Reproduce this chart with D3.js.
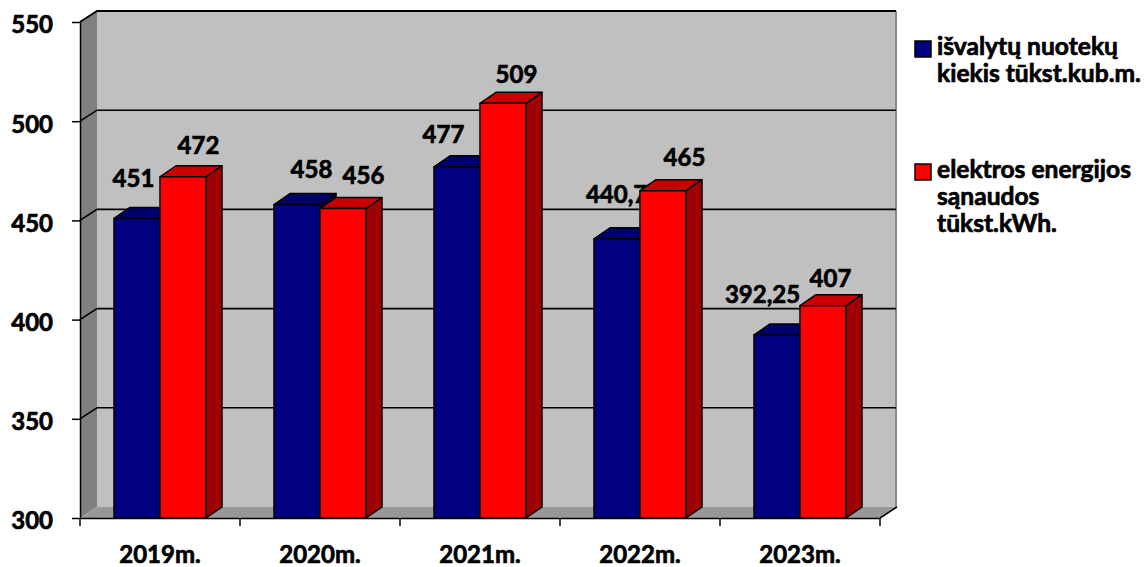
<!DOCTYPE html>
<html>
<head>
<meta charset="utf-8">
<script src="https://cdn.jsdelivr.net/npm/d3@7"></script>
<style>
  html, body { margin: 0; padding: 0; background: #fff; }
  svg { display: block; font-family: Lato, "Open Sans", sans-serif; font-weight: bold; }
  /* Lato bold is a bit light next to the original, thicken it */
  svg text { stroke: #000; stroke-width: 0.7px; paint-order: stroke; }
</style>
</head>
<body>
<div id="chart"></div>
<script>
// Chart data
const years = ['2019m.', '2020m.', '2021m.', '2022m.', '2023m.'];
const seriesNames = [
  ['išvalytų nuotekų', 'kiekis tūkst.kub.m.'],
  ['elektros energijos', 'sąnaudos', 'tūkst.kWh.']
];
const wastewater = [451, 458, 477, 440.75, 392.25];
const electricity = [472, 456, 509, 465, 407];
const yTicks = [300, 350, 400, 450, 500, 550];

// Layout
const width = 1147, height = 567;
const plot = { left: 80, right: 880, top: 22, bottom: 518 };
const depth = { dx: 17, dy: -11 };
const colors = [
  { front: '#000080', top: '#00006a', side: '#000055' },
  { front: '#ff0000', top: '#c80000', side: '#a00000' }
];
// hand-moved data labels, px offset from default spot
const labelNudge = [
  [[-12, -5], [6, -1], [-22, 2], [-2, -10], [-23, -6]],
  [[7, 3], [12, 2], [5, 6], [13, 1], [-1, 7]]
];
const font = 'Lato, "Open Sans", sans-serif';

const fmt = v => String(v).replace('.', ',');

const svg = d3.select('#chart').append('svg')
  .attr('width', width)
  .attr('height', height);

const y = d3.scaleLinear().domain([300, 550]).range([plot.bottom, plot.top]);
const x0 = d3.scaleBand().domain(years).range([plot.left, plot.right]);
const x1 = d3.scaleBand().domain([0, 1]).range([34, 126]);

const bx = plot.left + depth.dx, by = depth.dy;

// Walls and floor
svg.append('polygon') // back wall
  .attr('points', [[bx, y(550) + by], [plot.right + depth.dx, y(550) + by],
    [plot.right + depth.dx, y(300) + by], [bx, y(300) + by]].join(' '))
  .attr('fill', '#c0c0c0');
svg.append('line')
  .attr('x1', plot.right + depth.dx - 1).attr('x2', plot.right + depth.dx - 1)
  .attr('y1', y(550) + by).attr('y2', y(300) + by)
  .attr('stroke', '#8a8a8a').attr('stroke-width', 2);
svg.append('polygon') // left wall
  .attr('points', [[plot.left, y(550)], [bx, y(550) + by],
    [bx, y(300) + by], [plot.left, y(300)]].join(' '))
  .attr('fill', '#808080');
svg.append('polygon') // floor
  .attr('points', [[plot.left, y(300)], [bx, y(300) + by],
    [plot.right + depth.dx, y(300) + by], [plot.right, y(300)]].join(' '))
  .attr('fill', '#989898');

// Gridlines (run across the left wall and back wall)
svg.append('g')
  .selectAll('path')
  .data(yTicks.filter(t => t > 300))
  .join('path')
  .attr('d', t => `M${plot.left},${y(t)}L${bx},${y(t) + by}L${plot.right + depth.dx - 1},${y(t) + by}`)
  .attr('fill', 'none')
  .attr('stroke', '#000')
  .attr('stroke-width', t => t === 550 ? 2 : 1.6);

// floor right edge
svg.append('line')
  .attr('x1', plot.right).attr('y1', y(300))
  .attr('x2', plot.right + depth.dx).attr('y2', y(300) + by)
  .attr('stroke', '#000').attr('stroke-width', 1.5);

// Y axis
const yAxis = svg.append('g')
  .attr('transform', `translate(${plot.left},0)`)
  .call(d3.axisLeft(y).tickValues(yTicks).tickSize(8).tickPadding(19).tickSizeOuter(0));
yAxis.select('.domain').attr('stroke', '#000').attr('stroke-width', 1.5);
yAxis.selectAll('.tick line').attr('stroke', '#000').attr('stroke-width', 1.5);
yAxis.selectAll('.tick text')
  .attr('dy', '0.45em')
  .attr('font-size', 24)
  .attr('font-family', font)
  .attr('font-weight', 'bold')
  .attr('fill', '#000');

// X axis: labels at band centres, ticks on band edges
const xAxis = svg.append('g')
  .attr('transform', `translate(0,${plot.bottom})`)
  .call(d3.axisBottom(x0).tickSize(0).tickSizeOuter(0));
xAxis.select('.domain').attr('stroke', '#000').attr('stroke-width', 1.5);
xAxis.selectAll('.tick text')
  .attr('y', 45)
  .attr('dy', 0)
  .attr('font-size', 24)
  .attr('font-family', font)
  .attr('font-weight', 'bold')
  .attr('fill', '#000');
xAxis.selectAll('line.edge')
  .data(years.map(d => x0(d)).concat([plot.right]))
  .join('line')
  .attr('class', 'edge')
  .attr('x1', d => d).attr('x2', d => d)
  .attr('y1', 0).attr('y2', 8)
  .attr('stroke', '#000').attr('stroke-width', 1.5);

// 3D bars
function drawBar(g, x, w, v, c) {
  const top = y(v), base = y(300);
  const dx = depth.dx - 1, dy = depth.dy;
  g.append('polygon') // side
    .attr('points', [[x + w, base], [x + w + dx, base + dy], [x + w + dx, top + dy], [x + w, top]].join(' '))
    .attr('fill', c.side);
  g.append('polygon') // top
    .attr('points', [[x, top], [x + dx, top + dy], [x + w + dx, top + dy], [x + w, top]].join(' '))
    .attr('fill', c.top);
  g.append('rect') // front
    .attr('x', x).attr('y', top)
    .attr('width', w).attr('height', base - top)
    .attr('fill', c.front);
  g.selectAll('*')
    .attr('stroke', '#000')
    .attr('stroke-width', 1.5)
    .attr('stroke-linejoin', 'round');
}

[wastewater, electricity].forEach((values, s) => {
  const layer = svg.append('g').attr('class', 'series-' + s);
  values.forEach((v, i) => {
    const x = x0(years[i]) + x1(s);
    drawBar(layer.append('g'), x, x1.bandwidth(), v, colors[s]);
  });
  // value labels sit above the top face
  layer.append('g')
    .selectAll('text')
    .data(values)
    .join('text')
    .attr('x', (v, i) => x0(years[i]) + x1(s) + x1.bandwidth() / 2 + depth.dx / 2 + labelNudge[s][i][0])
    .attr('y', (v, i) => y(v) - 26 + labelNudge[s][i][1])
    .attr('text-anchor', 'middle')
    .attr('font-size', 24)
    .attr('fill', '#000')
    .text(v => fmt(v));
});

// Legend
const legend = svg.append('g').attr('transform', 'translate(915,0)');
const legendTop = [55, 178];
seriesNames.forEach((lines, s) => {
  const g = legend.append('g').attr('transform', `translate(0,${legendTop[s]})`);
  g.append('rect')
    .attr('x', 0).attr('y', -14)
    .attr('width', 16).attr('height', 16)
    .attr('fill', colors[s].front)
    .attr('stroke', '#000')
    .attr('stroke-width', 1.5);
  g.append('text')
    .attr('font-size', 24.6)
    .attr('fill', '#000')
    .selectAll('tspan')
    .data(lines)
    .join('tspan')
    .attr('x', 22)
    .attr('y', (d, k) => k * 27)
    .text(d => d);
});
</script>
</body>
</html>
